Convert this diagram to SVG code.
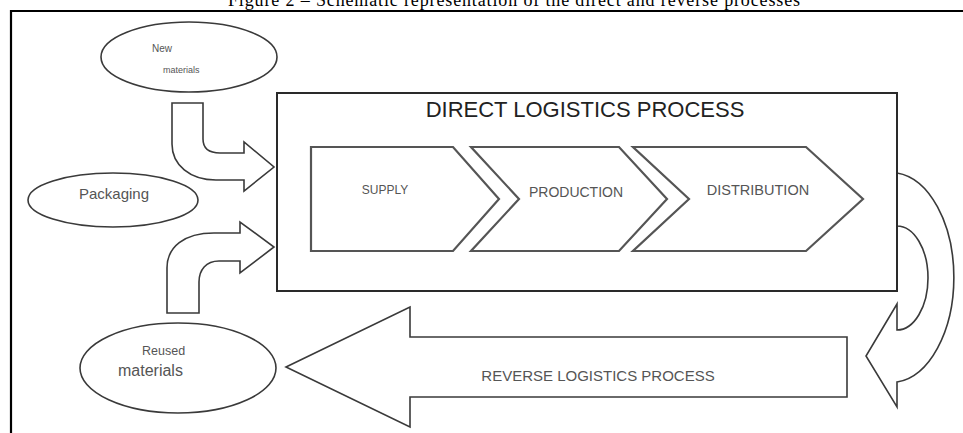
<svg xmlns="http://www.w3.org/2000/svg" width="963" height="433" viewBox="0 0 963 433">
<style>
.ell{fill:#fff;stroke:#3a3a3a;stroke-width:1.6}
.box{fill:#fff;stroke:#2a2a2a;stroke-width:2}
.chev{fill:#fff;stroke:#555;stroke-width:2.2;stroke-linejoin:miter}
.arr{fill:#fff;stroke:#3a3a3a;stroke-width:1.6;stroke-linejoin:miter}
.t{font-family:"Liberation Sans",Arial,sans-serif;fill:#555}
.title{font-family:"Liberation Serif","Times New Roman",serif;font-size:18px;fill:#000}
</style>
<rect width="963" height="433" fill="#fff"/>
<text class="title" x="514" y="6" text-anchor="middle" textLength="572">Figure 2 – Schematic representation of the direct and reverse processes</text>
<path d="M11,433 L11,11 L963,11" fill="none" stroke="#000" stroke-width="2.2"/>

<g id="connectors">
  <path id="arrow-new" class="arr" d="M172,103 L203,103 L203,139 C203,148 209,153 220,153 L244,153 L244,142 L274,167 L244,191 L244,180 L216,180 C190,180 172,165 172,144 Z"/>
  <path id="arrow-reused" class="arr" d="M167,313 L167,268 C167,247 184,233 214,233 L240,233 L240,222 L274,247 L240,273 L240,261 L219,261 C206,261 199,270 199,282 L199,313 Z"/>
  <path id="arrow-uturn" class="arr" d="M897,173 A63,105 0 0 1 897,382 L897,407 L866,356 L897,304 L897,330 A31,52 0 0 0 897,226 Z"/>
</g>

<g id="direct-process">
  <rect class="box" x="277" y="93" width="620" height="198"/>
  <text x="585" y="117" text-anchor="middle" style="font-family:'Liberation Sans',Arial,sans-serif;font-size:22px;fill:#222">DIRECT LOGISTICS PROCESS</text>
</g>
<g id="supply">
  <polygon class="chev" points="311,147 453,147 499,199 453,251 311,251"/>
  <text class="t" x="385" y="194" text-anchor="middle" font-size="12">SUPPLY</text>
</g>
<g id="production">
  <polygon class="chev" points="471,147 619,147 667,199 619,251 471,251 519,199"/>
  <text class="t" x="576" y="197" text-anchor="middle" font-size="14">PRODUCTION</text>
</g>
<g id="distribution">
  <polygon class="chev" points="633,147 806,147 863,199 806,251 633,251 689,199"/>
  <text class="t" x="758" y="195" text-anchor="middle" font-size="14.5">DISTRIBUTION</text>
</g>

<g id="new-materials">
  <ellipse class="ell" cx="189" cy="57" rx="88" ry="35"/>
  <text class="t" x="152" y="52" font-size="10">New</text>
  <text class="t" x="163" y="73" font-size="9">materials</text>
</g>
<g id="packaging">
  <ellipse class="ell" cx="113" cy="200" rx="85" ry="27"/>
  <text class="t" x="79" y="199" font-size="15" fill="#666">Packaging</text>
</g>
<g id="reused-materials">
  <ellipse class="ell" cx="178" cy="368" rx="98" ry="45"/>
  <text class="t" x="142" y="355" font-size="12.5">Reused</text>
  <text class="t" x="118" y="376" font-size="16">materials</text>
</g>
<g id="reverse-process">
  <path class="arr" d="M286,367 L410,307 L410,337 L847,337 L847,397 L410,397 L410,427 Z"/>
  <text class="t" x="598" y="381" text-anchor="middle" font-size="15" fill="#333">REVERSE LOGISTICS PROCESS</text>
</g>
</svg>
